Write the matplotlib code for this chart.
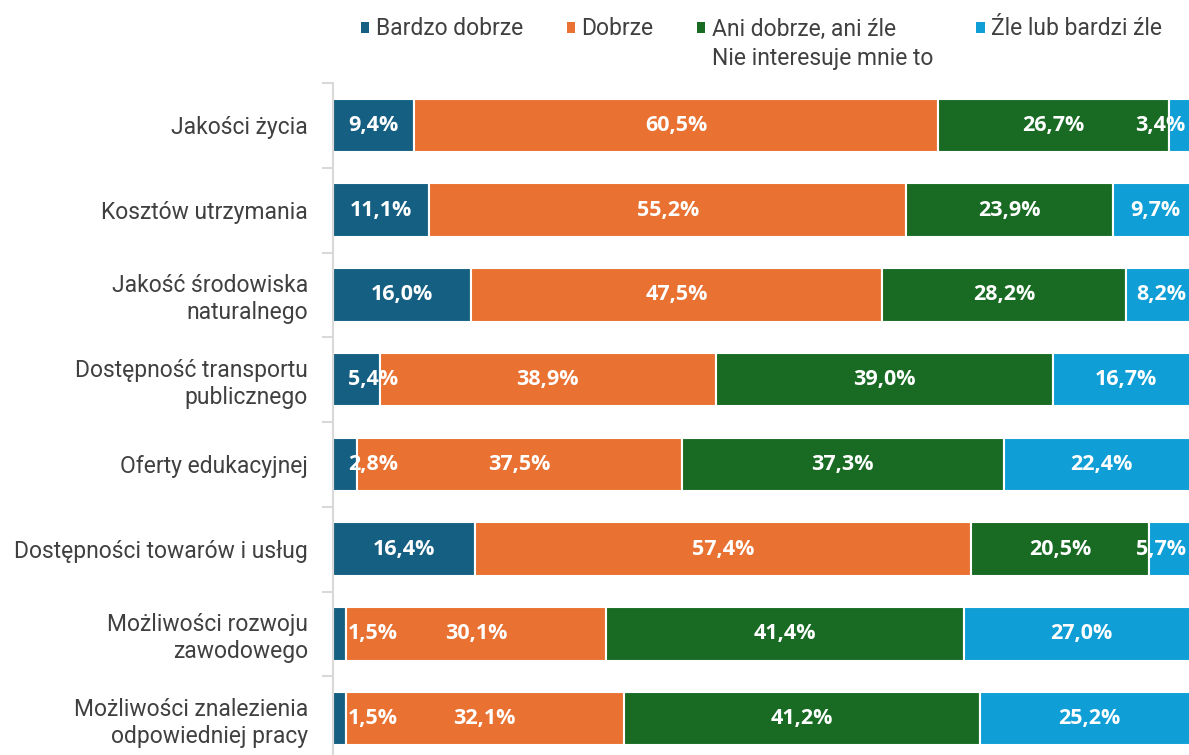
import matplotlib.pyplot as plt
from matplotlib.patches import Patch

plt.rcParams['font.family'] = ['Roboto', 'DejaVu Sans']

categories = [
    'Jakości życia',
    'Kosztów utrzymania',
    'Jakość środowiska\nnaturalnego',
    'Dostępność transportu\npublicznego',
    'Oferty edukacyjnej',
    'Dostępności towarów i usług',
    'Możliwości rozwoju\nzawodowego',
    'Możliwości znalezienia\nodpowiedniej pracy',
]
bardzo_dobrze = [9.4, 11.1, 16.0, 5.4, 2.8, 16.4, 1.5, 1.5]
dobrze = [60.5, 55.2, 47.5, 38.9, 37.5, 57.4, 30.1, 32.1]
ani_ani = [26.7, 23.9, 28.2, 39.0, 37.3, 20.5, 41.4, 41.2]
zle = [3.4, 9.7, 8.2, 16.7, 22.4, 5.7, 27.0, 25.2]
nie_interesuje = [0.0, 0.0, 0.0, 0.0, 0.0, 0.0, 0.0, 0.0]

series = [
    ('Bardzo dobrze', bardzo_dobrze, '#156082'),
    ('Dobrze', dobrze, '#E97132'),
    ('Ani dobrze, ani źle', ani_ani, '#196B24'),
    ('Źle lub bardzi źle', zle, '#0F9ED5'),
    ('Nie interesuje mnie to', nie_interesuje, '#FFFFFF'),
]

fig = plt.figure(figsize=(11.89, 7.55), dpi=100)
# plot area runs a little past the right edge of the figure
ax = fig.add_axes([0.280, -0.008, 0.7275, 0.898])

y = list(range(len(categories)))
left = [0.0] * len(categories)
for i, (name, vals, color) in enumerate(series):
    ax.barh(y, vals, left=left, height=0.63, color=color,
            edgecolor='white', linewidth=1.5)
    if i < 4:
        for j, v in enumerate(vals):
            x = left[j] + v / 2
            # small segments at the edges get their label pushed inward
            if v < 6 and i == 0:
                x = 4.6
            elif v < 6 and i == 3:
                x = 95.7
            ax.text(x, j, f'{v:.1f}%'.replace('.', ','), ha='center',
                    va='center', color='white', fontsize=15.5,
                    fontweight='bold', family=['Open Sans', 'DejaVu Sans'])
    left = [a + b for a, b in zip(left, vals)]

ax.set_xlim(0, 100)
ax.set_ylim(len(categories) - 0.5, -0.5)
ax.set_yticks(y)
ax.set_yticklabels(categories, fontsize=16.5, color='#404040',
                   linespacing=1.2)
ax.set_yticks([k - 0.5 for k in range(len(categories) + 1)], minor=True)
ax.tick_params(axis='y', which='major', length=0, pad=18)
ax.tick_params(axis='y', which='minor', length=8, width=1.5,
               color='#d9d9d9')
ax.set_xticks([])
for s in ['top', 'right', 'bottom']:
    ax.spines[s].set_visible(False)
ax.spines['left'].set_color('#d9d9d9')
ax.spines['left'].set_linewidth(1.5)

# legend laid out as 4 columns x 2 rows, column-major, blanks as spacers
blank = Patch(facecolor='none', edgecolor='none')
h = [Patch(facecolor=c, edgecolor='none') for _, _, c in series]
handles = [h[0], blank, h[1], blank, h[2], h[4], h[3], blank]
labels = [series[0][0], '', series[1][0], '', series[2][0], series[4][0],
          series[3][0], '']
fig.legend(handles, labels, ncol=4, loc='upper left',
           bbox_to_anchor=(0.296, 0.989), frameon=False, fontsize=16.5,
           handlelength=0.36, handleheight=0.36, handletextpad=0.28,
           columnspacing=1.9, labelspacing=0.3, labelcolor='#404040',
           borderaxespad=0.0)

plt.savefig('out.png', dpi=100)
